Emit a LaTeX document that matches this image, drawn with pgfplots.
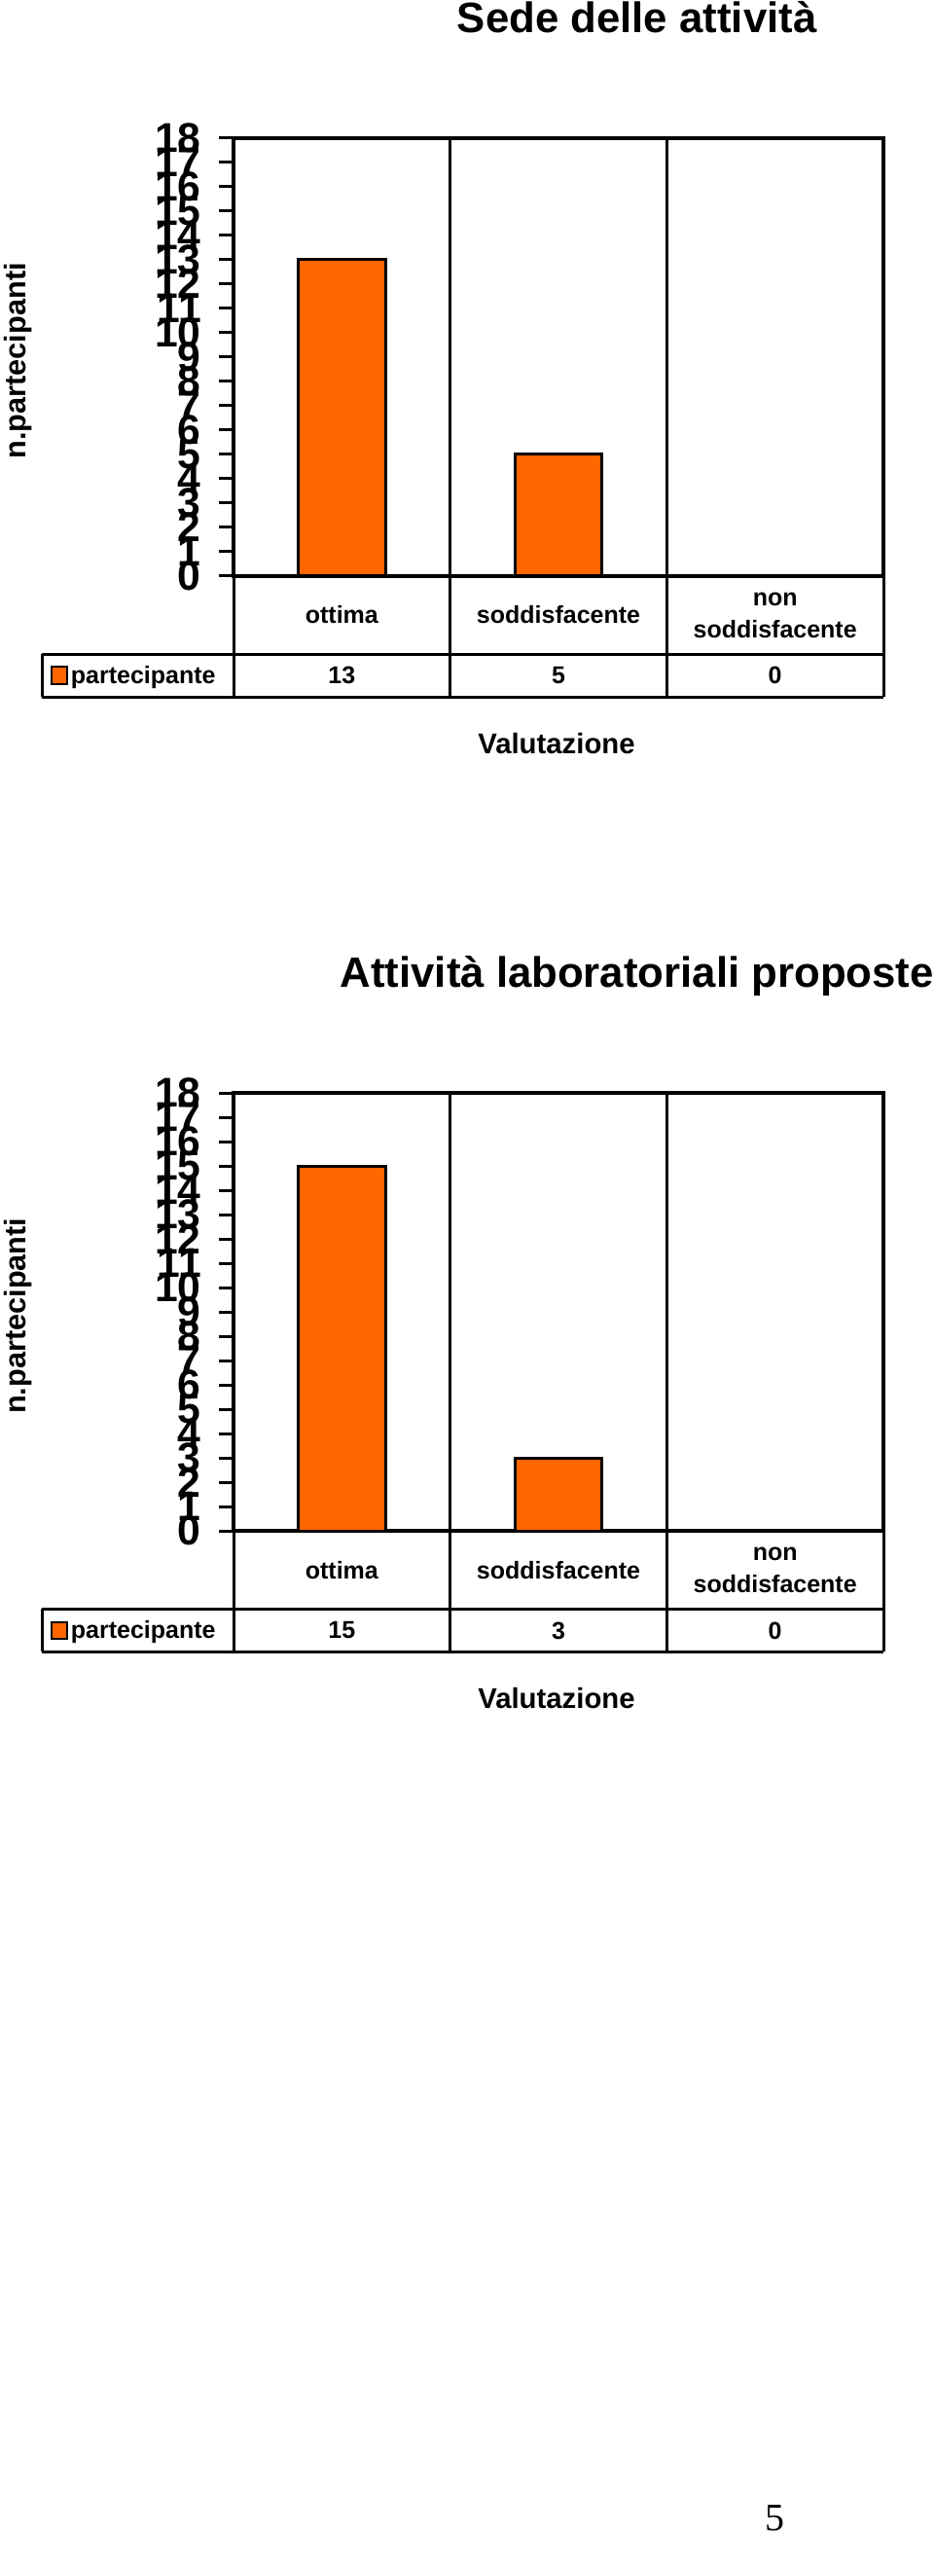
\documentclass[border=0pt]{standalone}
\usepackage{fontspec}
\setmainfont{Liberation Sans}
\newfontfamily\seriffont{Liberation Serif}
\usepackage{pgfplots}
\pgfplotsset{compat=1.18}
\definecolor{barorange}{HTML}{FF6600}

\tikzset{valnode/.style={font=\fontsize{18.75}{20}\selectfont\bfseries, anchor=center}}
\pgfplotsset{
  mychart/.style={
    scale only axis, width=501pt, height=337.5pt,
    anchor=south west,
    xmin=0, xmax=3, ymin=0, ymax=18,
    ytick={0,1,...,18},
    xtick={0.5,1.5,2.5},
    xticklabels={ottima, soddisfacente, {non\\soddisfacente}},
    xtick style={draw=none},
    xticklabel style={font=\fontsize{18.75}{24.75}\selectfont\bfseries, align=center, anchor=center, yshift=-18.95pt},
    ytick pos=left,
    ytick align=outside,
    major tick length=11.25pt,
    ytick style={line width=2.25pt, black},
    yticklabel style={font=\fontsize{32}{32}\selectfont\bfseries, anchor=east, inner sep=0pt, xshift=-13.5pt},
    /pgf/number format/assume math mode=true,
    axis line style={line width=3pt},
    ybar, bar width=67pt,
    clip=false,
    every axis title shift=0pt,
    title style={at={(axis description cs:0.6208,1.2416)}, anchor=base, font=\fontsize{32.8}{36}\selectfont\bfseries},
    ylabel={n.partecipanti},
    ylabel style={at={(axis description cs:-0.3308,0.491)}, anchor=center, font=\fontsize{23}{23}\selectfont\bfseries},
    xlabel={Valutazione},
    xlabel style={at={(axis description cs:0.497,-0.3828)}, anchor=center, font=\fontsize{22}{22}\selectfont\bfseries},
    legend style={at={(axis description cs:-0.2814,-0.2273)}, anchor=west, draw=none, fill=none, inner sep=0pt,
      font=\fontsize{18.75}{20}\selectfont\bfseries},
  },
  mybar/.style={fill=barorange, draw=black, line width=2.25pt,
    legend image code/.code={\draw[fill=barorange, draw=black, line width=1.5pt] (0pt,-6.5pt) rectangle (12pt,6.5pt);}},
}

\begin{document}
\begin{tikzpicture}
\path[use as bounding box] (0,0) rectangle (720pt,-1985.25pt);

% ---------- Chart 1 ----------
\begin{axis}[mychart, at={(180pt,-443.8pt)}, title={Sede delle attività}]
\addplot[mybar] coordinates {(0.5,13) (1.5,5) (2.5,0)};
\addlegendentry{partecipante}
\path (axis cs:0.5,0) ++(0,-76.7pt) node[valnode] {13};
\path (axis cs:1.5,0) ++(0,-76.7pt) node[valnode] {5};
\path (axis cs:2.5,0) ++(0,-76.7pt) node[valnode] {0};
\end{axis}
\begin{scope}[line width=2.25pt]
\draw (32.25pt,-504pt) -- (681pt,-504pt);
\draw (32.25pt,-537pt) -- (681pt,-537pt);
\draw (32.25pt,-504pt) -- (32.25pt,-537pt);
\draw (180pt,-443.8pt) -- (180pt,-537pt);
\draw (681pt,-443.8pt) -- (681pt,-537pt);
\draw[line width=1.9pt] (347pt,-106.3pt) -- (347pt,-537pt);
\draw[line width=1.9pt] (514pt,-106.3pt) -- (514pt,-537pt);
\end{scope}

% ---------- Chart 2 ----------
\begin{axis}[mychart, at={(180pt,-1179.9pt)}, title={Attività laboratoriali proposte}]
\addplot[mybar] coordinates {(0.5,15) (1.5,3) (2.5,0)};
\addlegendentry{partecipante}
\path (axis cs:0.5,0) ++(0,-76.7pt) node[valnode] {15};
\path (axis cs:1.5,0) ++(0,-76.7pt) node[valnode] {3};
\path (axis cs:2.5,0) ++(0,-76.7pt) node[valnode] {0};
\end{axis}
\begin{scope}[yshift=-736.1pt, line width=2.25pt]
\draw (32.25pt,-504pt) -- (681pt,-504pt);
\draw (32.25pt,-537pt) -- (681pt,-537pt);
\draw (32.25pt,-504pt) -- (32.25pt,-537pt);
\draw (180pt,-443.8pt) -- (180pt,-537pt);
\draw (681pt,-443.8pt) -- (681pt,-537pt);
\draw[line width=1.9pt] (347pt,-106.3pt) -- (347pt,-537pt);
\draw[line width=1.9pt] (514pt,-106.3pt) -- (514pt,-537pt);
\end{scope}

% page number
\node[font=\seriffont\fontsize{30}{30}\selectfont, anchor=base] at (597pt,-1950pt) {5};
\end{tikzpicture}
\end{document}
